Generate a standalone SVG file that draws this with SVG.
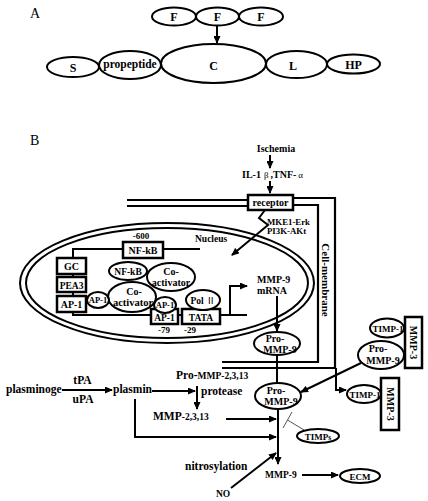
<svg xmlns="http://www.w3.org/2000/svg" width="428" height="501" viewBox="0 0 428 501">
<style>
text{font-family:"Liberation Serif","Times New Roman",serif;font-weight:bold;fill:#000;}
.lbl{font-weight:normal;font-size:14px;}
.c{text-anchor:middle;}
.e{fill:#fff;stroke:#000;stroke-width:2;}
.b{fill:#fff;stroke:#000;stroke-width:2.5;}
.ln{fill:none;stroke:#000;stroke-width:2;}
.mem{fill:none;stroke:#000;stroke-width:2.2;}
.th{fill:none;stroke:#555;stroke-width:1;}
.a{fill:none;stroke:#000;stroke-width:2;marker-end:url(#ah);}
</style>
<defs>
<marker id="ah" markerUnits="userSpaceOnUse" markerWidth="8" markerHeight="7" refX="7" refY="3.5" orient="auto">
<path d="M0,0 L8,3.5 L0,7 z" fill="#000"/>
</marker>
</defs>

<!-- Part A -->
<g id="labelA"><text class="lbl" x="30" y="18">A</text></g>
<g id="connectorsA"><path class="a" d="M217,26 V43"/></g>
<g id="F1"><ellipse class="e" cx="174" cy="16.5" rx="22" ry="9"/><text class="c" x="174" y="21" font-size="12">F</text></g>
<g id="F2"><ellipse class="e" cx="217.5" cy="16.5" rx="21.5" ry="9"/><text class="c" x="217.5" y="21" font-size="12">F</text></g>
<g id="F3"><ellipse class="e" cx="261" cy="16.5" rx="22" ry="9"/><text class="c" x="261" y="21" font-size="12">F</text></g>
<g id="S"><ellipse class="e" cx="73" cy="67" rx="26" ry="10"/><text class="c" x="73" y="72" font-size="12">S</text></g>
<g id="propeptide"><ellipse class="e" cx="130" cy="65" rx="31" ry="14"/><text class="c" x="130" y="68" font-size="11.5">propeptide</text></g>
<g id="C"><ellipse class="e" cx="213.5" cy="63.5" rx="52.5" ry="19.5"/><text class="c" x="213.5" y="70" font-size="12">C</text></g>
<g id="L"><ellipse class="e" cx="296.5" cy="64.5" rx="30.5" ry="13.5"/><text class="c" x="293" y="70" font-size="12">L</text></g>
<g id="HP"><ellipse class="e" cx="353.5" cy="64" rx="26.5" ry="9.5"/><text class="c" x="353.5" y="69" font-size="12">HP</text></g>

<!-- Part B -->
<g id="labelB"><text class="lbl" x="30" y="145">B</text></g>

<g id="membrane">
<path class="mem" d="M127,200 H248 M127,206 H248"/>
<path class="mem" d="M293,198 H335 V368 H222"/>
<path class="mem" d="M293,205 H318 V362 H222"/>
<text transform="translate(322,280) rotate(90)" class="c" font-size="11">Cell-membrane</text>
</g>

<g id="nucleus">
<ellipse fill="none" stroke="#000" stroke-width="2" cx="167" cy="283" rx="147" ry="60"/>
<ellipse fill="none" stroke="#000" stroke-width="2" cx="167" cy="283" rx="141" ry="55"/>
<text x="195" y="242" font-size="9.5">Nucleus</text>
</g>

<g id="connectors">
<path class="ln" d="M200,249 H73 V315 H230"/>
<path class="ln" d="M220,315 H247"/>
<path class="a" d="M230,315 V286 H247"/>
<path class="a" d="M270,155 V168"/>
<path class="a" d="M270,181 V193"/>
<path class="a" d="M265,210 L259,218 L268,225 L232,255"/>
<path class="a" d="M277,296 V331"/>
<path class="ln" d="M277,355 V383"/>
<path class="a" d="M361,363 L301,392"/>
<path class="a" d="M336,368 V390 H346"/>
<path class="a" d="M62,390 H112"/>
<path class="a" d="M152,391 H195"/>
<path class="a" d="M197,386 V409"/>
<path class="a" d="M226,419 H276"/>
<path class="a" d="M135,399 V437 H276"/>
<path class="a" d="M278,408 V464"/>
<path class="a" d="M231,488 L276,453"/>
<path class="a" d="M302,475 H338"/>
<path class="th" d="M292,412 L283,428 M287.5,420 L304,430"/>
</g>

<g id="ischemia"><text class="c" x="276" y="152" font-size="10">Ischemia</text></g>
<g id="cytokines"><text x="242" y="178" font-size="10">IL-1<tspan font-weight="normal" font-size="9" dx="3">β</tspan><tspan dx="2">,TNF-</tspan><tspan font-weight="normal" font-size="9" dx="2">α</tspan></text></g>
<g id="receptor"><rect class="b" x="248" y="195" width="45" height="15"/><text class="c" x="270.5" y="206" font-size="10">receptor</text></g>
<g id="kinases"><text x="267" y="225" font-size="8.8">MKE1-Erk</text><text x="267" y="234" font-size="8.8">PI3K-AKt</text></g>

<g id="NFkB-box"><text class="c" x="141" y="238.5" font-size="9">-600</text><rect class="b" x="123" y="242" width="40" height="16"/><text class="c" x="143" y="254" font-size="10">NF-kB</text></g>
<g id="GC"><rect class="b" x="57" y="258" width="29" height="16"/><text class="c" x="71.5" y="270" font-size="10">GC</text></g>
<g id="PEA3"><rect class="b" x="57" y="277" width="29" height="15"/><text class="c" x="71.5" y="288.5" font-size="9.5">PEA3</text></g>
<g id="AP1-box"><rect class="b" x="57" y="296" width="29" height="16"/><text class="c" x="71.5" y="308" font-size="10">AP-1</text></g>
<g id="AP1-box2"><rect class="b" x="151" y="309" width="27" height="15"/><text class="c" x="164.5" y="320.5" font-size="9.5">AP-1</text><text class="c" x="164" y="333" font-size="9">-79</text></g>
<g id="TATA"><rect class="b" x="182" y="309" width="38" height="15"/><text class="c" x="201" y="320.5" font-size="9.5">TATA</text><text class="c" x="190" y="333" font-size="9">-29</text></g>

<g id="NFkB-ell"><ellipse class="e" cx="128" cy="271" rx="19" ry="9"/><text class="c" x="128" y="275" font-size="9.5">NF-kB</text></g>
<g id="coact1"><ellipse class="e" cx="171" cy="277" rx="24" ry="14"/><text class="c" x="171" y="275" font-size="10">Co-</text><text class="c" x="171" y="286" font-size="10">activator</text></g>
<g id="coact2"><ellipse class="e" cx="132" cy="297" rx="24" ry="15"/><text class="c" x="134" y="295" font-size="10">Co-</text><text class="c" x="133" y="305.5" font-size="10.5">activator</text></g>
<g id="AP1-ell1"><ellipse class="e" cx="98" cy="300" rx="11" ry="8"/><text class="c" x="98" y="303" font-size="8.5">AP-1</text></g>
<g id="AP1-ell2"><ellipse class="e" cx="165" cy="305" rx="11" ry="8"/><text class="c" x="165" y="308" font-size="8.5">AP-1</text></g>
<g id="PolII"><ellipse class="e" cx="203" cy="300" rx="17" ry="10"/><text class="c" x="203" y="304" font-size="9.5">Pol <tspan font-family="'Noto Sans CJK SC',serif" font-weight="normal">Ⅱ</tspan></text></g>

<g id="mRNA"><text x="257" y="283" font-size="10">MMP-9</text><text x="257" y="294" font-size="10">mRNA</text></g>
<g id="proMMP9-in"><ellipse class="e" cx="277" cy="343.5" rx="23" ry="11.5"/><text class="c" x="275" y="342" font-size="10">Pro-</text><text class="c" x="280" y="352.5" font-size="10">MMP-9</text></g>
<g id="proMMP9-out"><ellipse class="e" cx="278" cy="396" rx="23" ry="13"/><text class="c" x="276" y="394" font-size="10">Pro-</text><text class="c" x="281" y="405" font-size="10">MMP-9</text></g>
<g id="TIMP1-a"><ellipse class="e" cx="387" cy="328" rx="17" ry="9.5"/><text class="c" x="388" y="331.5" font-size="9">TIMP-1</text></g>
<g id="proMMP9-r"><ellipse class="e" cx="381" cy="355" rx="23" ry="14"/><text class="c" x="378" y="352" font-size="10">Pro-</text><text class="c" x="383" y="364" font-size="10">MMP-9</text></g>
<g id="MMP3-a"><rect class="b" x="405" y="317" width="17" height="51"/><text transform="translate(410,342.5) rotate(90)" class="c" font-size="10">MMP-3</text></g>
<g id="TIMP1-b"><ellipse class="e" cx="364" cy="394" rx="17" ry="9"/><text class="c" x="365" y="397.5" font-size="9">TIMP-1</text></g>
<g id="MMP3-b"><rect class="b" x="381" y="378" width="18" height="52"/><text transform="translate(386.5,404) rotate(90)" class="c" font-size="10">MMP-3</text></g>

<g id="plasminogen"><text x="6" y="393" font-size="11.5">plasminoge</text></g>
<g id="tPA"><text class="c" x="82.5" y="384" font-size="11.5">tPA</text><text class="c" x="83" y="402.5" font-size="11.5">uPA</text></g>
<g id="plasmin"><text x="113" y="393" font-size="11.5">plasmin</text></g>
<g id="proMMP2"><text x="176" y="379" font-size="11.5">Pro-<tspan font-size="9.5">MMP-2,3,13</tspan></text></g>
<g id="protease"><text x="201" y="394.5" font-size="11.5">protease</text></g>
<g id="MMP2"><text x="153" y="420" font-size="11.5">MMP<tspan font-size="9.5">-2,3,13</tspan></text></g>
<g id="TIMPs"><ellipse class="e" cx="318" cy="436" rx="21" ry="7"/><text class="c" x="318" y="439.5" font-size="9">TIMP<tspan font-size="7.5">s</tspan></text></g>
<g id="nitrosylation"><text x="185" y="470" font-size="11.5">nitrosylation</text></g>
<g id="NO"><text x="216" y="497" font-size="9.5">NO</text></g>
<g id="MMP9"><text x="265" y="477.5" font-size="9.5">MMP-9</text></g>
<g id="ECM"><ellipse class="e" cx="360" cy="476" rx="20" ry="7"/><text class="c" x="360" y="479.5" font-size="9">ECM</text></g>
</svg>
